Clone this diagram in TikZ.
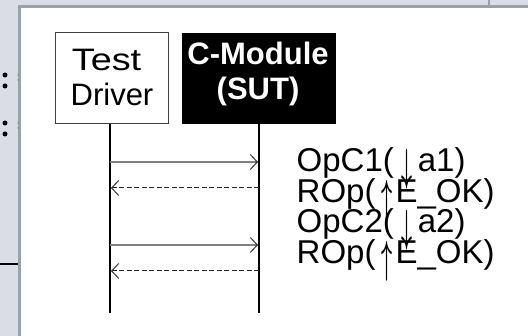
\documentclass[tikz,border=0pt]{standalone}
\usepackage{fontspec}
\setmainfont{Liberation Sans}
\usetikzlibrary{arrows.meta}
\definecolor{bggray}{RGB}{218,221,227}
\definecolor{bordergray}{RGB}{152,162,174}
\definecolor{msggray}{RGB}{128,128,128}
% tall thin arrow glyph (real text, stretched)
\newcommand\tallarrow[2]{\makebox[#2][c]{\smash{\raisebox{-17pt}{\resizebox*{11pt}{40pt}{\raisebox{\depth}{\boldmath$#1$}}}}}}
\tikzset{
  big/.style={font=\fontsize{31}{35}\selectfont, inner sep=0pt},
  lblfont/.style={font=\fontsize{33}{35}\selectfont, inner sep=0pt},
  tdbox/.style={draw=black!75, line width=1pt, fill=white, minimum width=113pt, minimum height=91pt, inner sep=0pt},
  sutbox/.style={fill=black, minimum width=154pt, minimum height=91pt, inner sep=0pt},
  lifeline/.style={line width=2.5pt, black},
  call/.style={draw=msggray, line width=1.8pt, -{Straight Barb[length=7pt,width=15pt,line width=1pt,color=black!80]}},
  reply/.style={draw=black!85, line width=1pt, dash pattern=on 5pt off 2.5pt, -{Straight Barb[length=7pt,width=15pt,line width=1pt,color=black!80]}},
  lbl/.style={lblfont, anchor=base west},
  dot/.style={circle, fill=black, inner sep=0pt, minimum size=5pt},
  tiny/.style={circle, fill=black!60, inner sep=0pt, minimum size=1.3pt},
}
\begin{document}
\begin{tikzpicture}[x=1pt, y=-1pt]
\useasboundingbox (0,0) rectangle (528,336);
% screenshot background
\fill[bggray] (0,0) rectangle (528,336);
\fill[bordergray] (18,5) rectangle (530,338);
\fill[white] (21,8) rectangle (530,338);
\draw[bordergray, line width=2pt] (489,0) -- (489,5);
\draw[black, line width=2pt] (0,264) -- (18,264);
\node[dot] (d1) at (5,75) {};
\node[dot] (d2) at (5,86) {};
\node[dot] (d3) at (5,123) {};
\node[dot] (d4) at (5,134) {};
\node[tiny] (t1) at (18,75) {};
\node[tiny] (t2) at (18,80) {};
\node[tiny] (t3) at (18,123) {};
\node[tiny] (t4) at (18,128) {};
% lifeline heads
\node[tdbox] (td) at (111.5,78.5) {};
\node[sutbox] (sut) at (259,78.5) {};
\node[big, anchor=base] (tdl1) at (106.5,71) {\scalebox{1.22}[1]{Test}};
\node[big, anchor=base] (tdl2) at (112,106) {Driver};
\node[big, anchor=base, text=white, font=\fontsize{31}{35}\selectfont\bfseries] (sutl1) at (258,65) {C-Module};
\node[big, anchor=base, text=white, font=\fontsize{31}{35}\selectfont\bfseries] (sutl2) at (258,100) {(SUT)};
% lifelines
\coordinate (tdtop) at (110,124);
\coordinate (tdbot) at (110,313);
\coordinate (suttop) at (259,124);
\coordinate (sutbot) at (259,313);
\draw[lifeline] (tdtop) -- (tdbot);
\draw[lifeline] (suttop) -- (sutbot);
% messages
\coordinate (a1) at (110,162); \coordinate (b1) at (258,162);
\coordinate (a2) at (111,188); \coordinate (b2) at (259,188);
\coordinate (a3) at (110,245); \coordinate (b3) at (258,245);
\coordinate (a4) at (111,271); \coordinate (b4) at (259,271);
\draw[call] (a1) -- (b1);
\draw[reply] (b2) -- (a2);
\draw[call] (a3) -- (b3);
\draw[reply] (b4) -- (a4);
% labels
\node[lbl] (m1) at (296.5,172) {OpC1(\hspace{6pt}\tallarrow{\downarrow}{15pt}\hspace{3pt}a1)};
\node[lbl] (m2) at (296.5,203) {ROp(\hspace{2pt}\tallarrow{\uparrow}{18pt}E\_OK)};
\node[lbl] (m3) at (296.5,233) {OpC2(\hspace{6pt}\tallarrow{\downarrow}{15pt}\hspace{3pt}a2)};
\node[lbl] (m4) at (296.5,264) {ROp(\hspace{2pt}\tallarrow{\uparrow}{18pt}E\_OK)};
\end{tikzpicture}
\end{document}
